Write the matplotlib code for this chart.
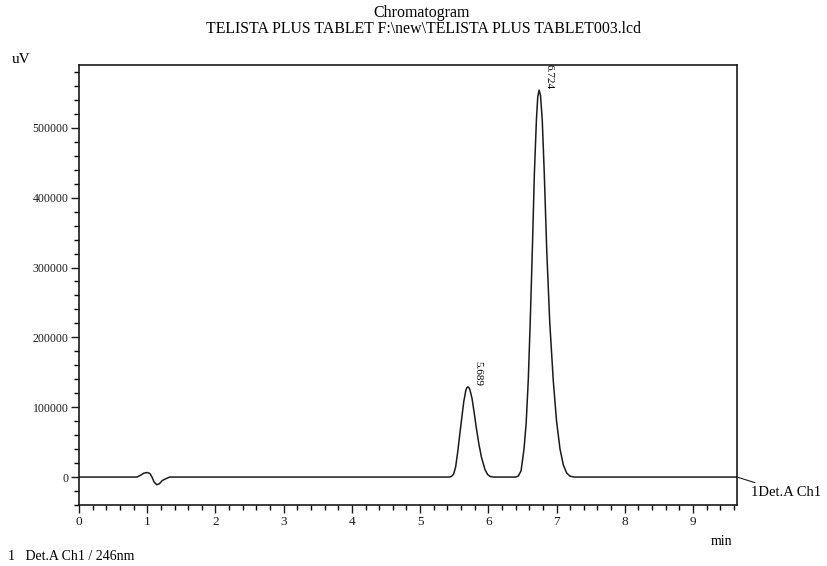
"""
Chromatogram - TELISTA PLUS TABLET (Det.A Ch1, 246nm)
"""
import matplotlib
matplotlib.use('Agg')
import matplotlib.pyplot as plt
from matplotlib.ticker import MultipleLocator

plt.rcParams['font.family'] = ['Liberation Serif', 'DejaVu Serif']

# 检测器信号（读自图像），单位 min / uV
time_min = [0.0, 0.85, 0.90, 0.95, 1.00, 1.04, 1.07, 1.10, 1.14, 1.18, 1.22, 1.27, 1.33,
            # 峰1
            5.43, 5.46, 5.49, 5.52, 5.55, 5.58, 5.61, 5.64, 5.67, 5.685, 5.70, 5.715,
            5.73, 5.76, 5.79, 5.82, 5.86, 5.90, 5.95, 5.99, 6.03, 6.08,
            # 峰2
            6.40, 6.44, 6.48, 6.523, 6.555, 6.586, 6.615, 6.645, 6.675, 6.705, 6.725,
            6.745, 6.765, 6.79, 6.82, 6.856, 6.90, 6.952, 7.00, 7.051, 7.10, 7.15,
            7.20, 7.26,
            9.645]
signal_uv = [0, 0, 2500, 5500, 6500, 5000, 0, -7000, -11000, -9500, -5000, -2500, 0,
             0, 1000, 4000, 14000, 35000, 60000, 84000, 108000, 124000, 127800, 129000, 128000,
             125000, 113000, 94000, 73000, 48000, 28000, 11000, 3500, 700, 0,
             0, 1500, 9000, 40000, 78000, 140000, 225000, 325000, 435000, 512000, 545000,
             554000, 546000, 512000, 435000, 325000, 222000, 138000, 80000, 40000, 17000, 5500,
             1200, 0,
             0]

# 峰标记
peak_rt = [5.689, 6.724]
peak_apex = [5.70, 6.745]
peak_height = [129000, 554000]

title_lines = ['Chromatogram', 'TELISTA PLUS TABLET F:\\new\\TELISTA PLUS TABLET003.lcd']

fig = plt.figure(figsize=(8.28, 5.66), dpi=100)
ax = fig.add_axes([0.0954, 0.1078, 0.7947, 0.7774])

ax.plot(time_min, signal_uv, color='#1a1a1a', linewidth=1.1)

for rt, x, h in zip(peak_rt, peak_apex, peak_height):
    ax.annotate(f'{rt:.3f}', xy=(x, h), xytext=(7, 1), textcoords='offset points',
                rotation=-90, ha='center', va='bottom', fontsize=8)

ax.set_xlim(0, 9.645)
ax.set_ylim(-40000, 590000)

ax.xaxis.set_major_locator(MultipleLocator(1))
ax.xaxis.set_minor_locator(MultipleLocator(0.2))
ax.yaxis.set_minor_locator(MultipleLocator(20000))
ax.set_yticks(range(0, 500001, 100000))
ax.set_yticklabels([str(v) for v in range(0, 500001, 100000)])

ax.tick_params(which='major', direction='out', length=6, width=1.0, pad=1.5,
               colors='#1a1a1a')
ax.tick_params(axis='y', which='major', labelsize=8.5)
ax.tick_params(axis='x', which='major', labelsize=9.5, pad=2)
ax.tick_params(which='minor', direction='out', length=3.5, width=1.0)

for sp in ax.spines.values():
    sp.set_linewidth(1.2)
    sp.set_color('#1a1a1a')

# 右侧通道标签
ax.annotate('1Det.A Ch1', xy=(1, 0), xycoords=ax.get_yaxis_transform(),
            xytext=(10, -11), textcoords='offset points', ha='left', va='center',
            fontsize=10.5, annotation_clip=False,
            arrowprops=dict(arrowstyle='-', lw=0.8, color='#1a1a1a', shrinkA=1, shrinkB=0))

fig.text(0.509, 0.977, title_lines[0], ha='center', va='center', fontsize=11.4)
fig.text(0.511, 0.949, title_lines[1], ha='center', va='center', fontsize=11.4)
fig.text(0.014, 0.894, 'uV', ha='left', va='center', fontsize=11)
fig.text(0.871, 0.044, 'min', ha='center', va='center', fontsize=10)
fig.text(0.010, 0.016, '1   Det.A Ch1 / 246nm', ha='left', va='center', fontsize=10)

plt.savefig('out.png', dpi=100)
